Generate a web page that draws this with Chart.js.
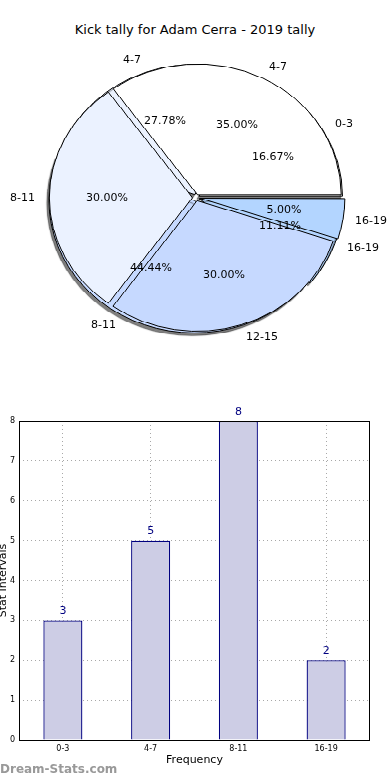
<!DOCTYPE html>
<html>
<head>
<meta charset="utf-8">
<script src="https://cdn.jsdelivr.net/npm/chart.js@4/dist/chart.umd.min.js"></script>
<style>
  body { margin: 0; background: #fff; width: 390px; height: 780px; position: relative; overflow: hidden; font-family: "DejaVu Sans", sans-serif; }
  #titulo { position: absolute; top: 22px; left: 0; width: 390px; text-align: center; font-size: 13px; color: #000; }
  #zonaPie { position: absolute; top: 0; left: 0; width: 390px; height: 432px; transform-origin: 0 0; }
  #zonaPie canvas { position: absolute; top: 0; left: 0; }
  #textosPie { position: absolute; top: 0; left: 0; }
  #zonaBarras { position: absolute; top: 395px; left: 0; width: 390px; height: 385px; }
  #marca { position: absolute; left: 0; top: 762px; font-size: 12px; font-weight: bold; color: #999; }
</style>
</head>
<body>
<div id="titulo">Kick tally for Adam Cerra - 2019 tally</div>
<div id="zonaPie">
  <canvas id="pieA" width="390" height="432"></canvas>
  <canvas id="pieB" width="390" height="432"></canvas>
</div>
<canvas id="textosPie" width="390" height="394"></canvas>
<div id="zonaBarras"><canvas id="barras" width="390" height="385"></canvas></div>
<div id="marca">Dream-Stats.com</div>
<script>
//Datos del grafico de torta (dos tortas superpuestas)
const categoriasA = ["0-3", "4-7", "8-11", "16-19"];
const valoresA = [3, 5, 8, 2];
const categoriasB = ["4-7", "8-11", "12-15", "16-19"];
const valoresB = [7, 6, 6, 1];

//Datos del grafico de barras
const categoriasBarras = ["0-3", "4-7", "8-11", "16-19"];
const valoresBarras = [3, 5, 8, 2];

const coloresPie = ["#ffffff", "#ebf2ff", "#c6d9ff", "#b3d5ff"];
const escalaY = 0.911; //la torta original es una elipse
const fuente = "DejaVu Sans";

document.getElementById("zonaPie").style.transform = "scaleY(" + escalaY + ")";

//---------------------------------------------------------------------------//
//chart.js dibuja en sentido horario, por eso invertimos el orden
function invertir(arr) {
  return arr.slice().reverse();
}

function configTorta(categorias, valores, plugins) {
  return {
    type: "pie",
    data: {
      labels: invertir(categorias),
      datasets: [
        {
          data: invertir(valores),
          backgroundColor: invertir(coloresPie),
          borderColor: "#000",
          borderWidth: 1,
          offset: 14, //chart.js lo divide por 4
          radius: 143,
        },
      ],
    },
    options: {
      responsive: false,
      animation: false,
      events: [],
      rotation: 90,
      layout: { padding: { left: 2, top: 2 } },
      plugins: { legend: { display: false }, tooltip: { enabled: false } },
    },
    plugins: plugins,
  };
}

//los textos van en un canvas aparte sin escalar (se ven nitidos)
const ctxTextos = document.getElementById("textosPie").getContext("2d");

function texto(txt, x, y, align) {
  ctxTextos.textAlign = align;
  ctxTextos.fillText(txt, Math.round(x), Math.round(y * escalaY));
}

function textosTorta(chart) {
  const meta = chart.getDatasetMeta(0);
  const valores = chart.data.datasets[0].data;
  const total = valores.reduce((a, b) => a + b, 0);
  meta.data.forEach((arco, i) => {
    const p = arco.getProps(["x", "y", "startAngle", "endAngle", "outerRadius"]);
    const medio = (p.startAngle + p.endAngle) / 2;
    const off = (arco.options.offset || 0) / 4;
    const c = Math.cos(medio);
    const s = Math.sin(medio);
    const pct = ((valores[i] / total) * 100).toFixed(2) + "%";
    texto(pct, p.x + c * (off + 0.6 * p.outerRadius), p.y + s * (off + 0.6 * p.outerRadius), "center");
    texto(chart.data.labels[i], p.x + c * (off + 1.1 * p.outerRadius), p.y + s * (off + 1.1 * p.outerRadius), c > 0 ? "left" : "right");
  });
}

//sombra de la torta de abajo
const sombra = {
  id: "sombra",
  beforeDatasetsDraw(chart) {
    const ctx = chart.ctx;
    ctx.save();
    ctx.shadowColor = "rgba(0,0,0,0.5)";
    ctx.shadowOffsetX = -2;
    ctx.shadowOffsetY = 3;
    ctx.shadowBlur = 1;
  },
  afterDatasetsDraw(chart) {
    chart.ctx.restore();
  },
};

const tortaA = new Chart(document.getElementById("pieA"), configTorta(categoriasA, valoresA, [sombra]));

const etiquetasTortas = {
  id: "etiquetasTortas",
  afterDraw(chart) {
    ctxTextos.clearRect(0, 0, 390, 394);
    ctxTextos.fillStyle = "#000";
    ctxTextos.font = "11px '" + fuente + "'";
    ctxTextos.textBaseline = "middle";
    textosTorta(tortaA);
    textosTorta(chart);
  },
};

new Chart(document.getElementById("pieB"), configTorta(categoriasB, valoresB, [etiquetasTortas]));

//---------------------------------Grafico de barras---------------------------------//
const marcoYValores = {
  id: "marcoYValores",
  afterDatasetsDraw(chart) {
    const ctx = chart.ctx;
    const a = chart.chartArea;
    ctx.save();
    ctx.strokeStyle = "#000";
    ctx.lineWidth = 1;
    ctx.strokeRect(a.left + 0.5, a.top + 0.5, a.right - a.left - 1, a.bottom - a.top);
    ctx.fillStyle = "#000080";
    ctx.font = "11px '" + fuente + "'";
    ctx.textAlign = "center";
    ctx.textBaseline = "middle";
    chart.getDatasetMeta(0).data.forEach((barra, i) => {
      ctx.fillText(String(valoresBarras[i]), barra.x, barra.y - 9);
    });
    ctx.restore();
  },
};

new Chart(document.getElementById("barras"), {
  type: "bar",
  data: {
    labels: categoriasBarras,
    datasets: [
      {
        data: valoresBarras,
        backgroundColor: "#cdcde5",
        borderColor: "#000080",
        borderWidth: 1.3,
        barPercentage: 0.445,
        categoryPercentage: 1,
      },
    ],
  },
  options: {
    responsive: false,
    animation: false,
    events: [],
    layout: { padding: { top: 26, right: 20, left: 0, bottom: 0 } },
    plugins: { legend: { display: false }, tooltip: { enabled: false } },
    scales: {
      x: {
        afterFit: (scale) => { scale.height = 40; },
        grid: { offset: false, color: "#a8a8a8", drawTicks: false },
        border: { display: false, dash: [1, 3] },
        ticks: { color: "#000", font: { family: fuente, size: 8 }, padding: 4 },
        title: { display: true, text: "Frequency", color: "#000", font: { family: fuente, size: 11 }, padding: { top: 0, bottom: 13 } },
      },
      y: {
        min: 0,
        max: 8,
        afterFit: (scale) => { scale.width = 19; },
        grid: { color: "#a8a8a8", drawTicks: false },
        border: { display: false, dash: [1, 3] },
        ticks: { stepSize: 1, color: "#000", font: { family: fuente, size: 8 }, padding: 4 },
        title: { display: true, text: "Stat Intervals", color: "#000", font: { family: fuente, size: 11, lineHeight: 1 }, padding: { top: -2, bottom: 0 } },
      },
    },
  },
  plugins: [marcoYValores],
});
</script>
</body>
</html>
